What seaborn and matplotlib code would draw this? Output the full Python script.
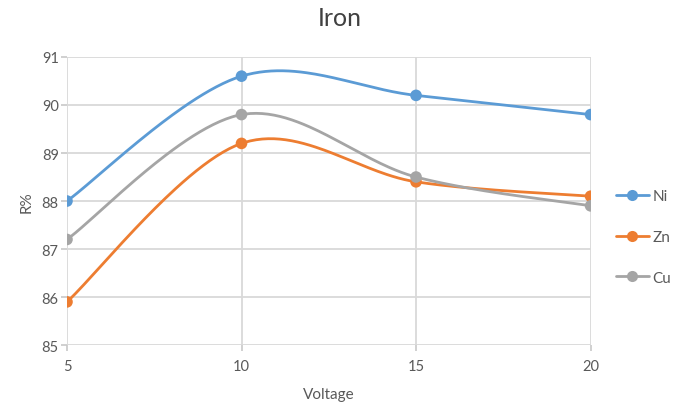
import numpy as np
import pandas as pd
import matplotlib
matplotlib.use("Agg")
import matplotlib.pyplot as plt
import seaborn as sns

voltage = [5, 10, 15, 20]
ni = [88.0, 90.6, 90.2, 89.8]
zn = [85.9, 89.2, 88.4, 88.1]
cu = [87.2, 89.8, 88.5, 87.9]
series_names = ["Ni", "Zn", "Cu"]
colors = ["#5B9BD5", "#ED7D31", "#A5A5A5"]
y_ticks = [85, 86, 87, 88, 89, 90, 91]


def smooth_curve(xs, ys, n=60):
    """Cardinal (Catmull-Rom style) Bezier smoothing through the points."""
    pts = np.column_stack([xs, ys]).astype(float)
    out = []
    m = len(pts)
    for i in range(m - 1):
        p0 = pts[i - 1] if i > 0 else pts[i]
        p1 = pts[i]
        p2 = pts[i + 1]
        p3 = pts[i + 2] if i + 2 < m else pts[i + 1]
        c1 = p1 + (p2 - p0) / 6.0
        c2 = p2 - (p3 - p1) / 6.0
        t = np.linspace(0, 1, n)[:, None]
        seg = ((1 - t) ** 3) * p1 + 3 * ((1 - t) ** 2) * t * c1 + 3 * (1 - t) * t ** 2 * c2 + t ** 3 * p2
        if i > 0:
            seg = seg[1:]
        out.append(seg)
    out = np.vstack(out)
    return out[:, 0], out[:, 1]


sns.set_theme(style="white")
plt.rcParams["font.family"] = ["Lato", "DejaVu Sans"]
plt.rcParams["xtick.bottom"] = True
plt.rcParams["ytick.left"] = True

fig = plt.figure(figsize=(6.8, 4.14), dpi=100)
ax = fig.add_axes([0.0985, 0.164, 0.77, 0.696])

curve_frames = []
point_frames = []
for name, vals in zip(series_names, [ni, zn, cu]):
    sx, sy = smooth_curve(voltage, vals)
    curve_frames.append(pd.DataFrame({"Voltage": sx, "R%": sy, "Metal": name}))
    point_frames.append(pd.DataFrame({"Voltage": voltage, "R%": vals, "Metal": name}))
curves = pd.concat(curve_frames, ignore_index=True)
points = pd.concat(point_frames, ignore_index=True)
palette = dict(zip(series_names, colors))

sns.lineplot(data=curves, x="Voltage", y="R%", hue="Metal", palette=palette,
             linewidth=2.0, sort=False, estimator=None, legend=False, ax=ax, zorder=3)
sns.scatterplot(data=points, x="Voltage", y="R%", hue="Metal", palette=palette,
                s=70, edgecolor="none", legend=False, ax=ax, zorder=4)

ax.set_xlim(5, 20)
ax.set_ylim(85, 91)
ax.set_xticks(voltage)
ax.set_yticks(y_ticks)
ax.grid(True, color="#d9d9d9", linewidth=1.3)
for s in ax.spines.values():
    s.set_visible(False)
ax.tick_params(axis="both", which="both", bottom=True, left=True, length=4, width=1.2,
               color="#c8c8c8", labelsize=10.5, labelcolor="#595959")
ax.tick_params(axis="x", pad=6)
ax.tick_params(axis="y", pad=2)

ax.set_xlabel("Voltage", fontsize=11, color="#595959", labelpad=10)
ax.set_ylabel("R%", fontsize=11, color="#595959", labelpad=6)
fig.text(0.5, 0.955, "Iron", ha="center", va="center", fontsize=18, color="#404040")

handles = [plt.Line2D([], [], color=c, linewidth=2.0, marker="o", markersize=8,
                      markeredgecolor="none") for c in colors]
fig.legend(handles, series_names, loc="center left", bbox_to_anchor=(0.885, 0.425),
           frameon=False, fontsize=11, labelcolor="#595959", handlelength=2.2,
           handletextpad=0.2, labelspacing=1.75)

fig.savefig("out.png", dpi=100, facecolor="white")
